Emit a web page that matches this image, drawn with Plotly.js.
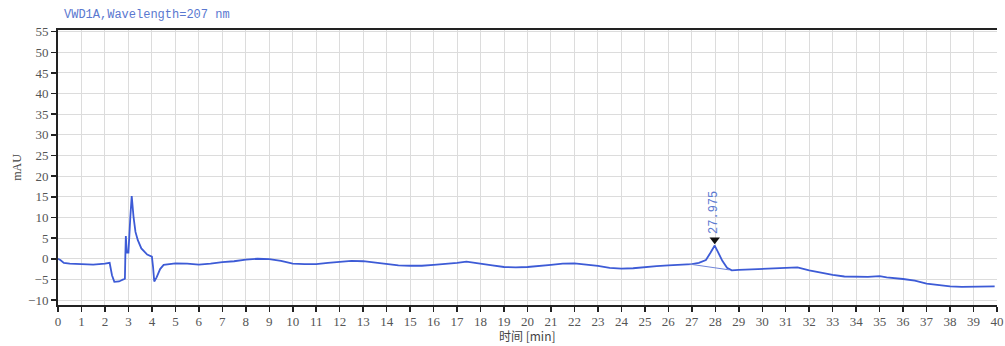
<!DOCTYPE html>
<html><head><meta charset="utf-8">
<script src="https://cdn.plot.ly/plotly-3.0.1.min.js"></script>
<style>body{margin:0;padding:0;background:#fff}#c{width:1005px;height:346px}</style>
</head><body><div id="c"></div>
<script>
const timeMin = [0,0.1,0.25,0.5,1,1.5,2.0,2.2,2.3,2.4,2.6,2.85,2.87,2.89,2.93,3.0,3.08,3.14,3.22,3.3,3.4,3.55,3.8,4.0,4.05,4.1,4.2,4.35,4.5,5,5.5,6,6.5,7,7.5,8,8.5,9,9.5,10,10.5,11,11.5,12,12.5,13,13.5,14,14.5,15,15.5,16,16.5,17,17.4,18,18.5,19,19.5,20,20.5,21,21.5,22,22.5,23,23.5,24,24.5,25,25.5,26,26.5,27,27.3,27.6,27.8,27.975,28.1,28.3,28.5,28.7,29,29.5,30,30.5,31,31.5,32,32.5,33,33.5,34,34.5,35,35.3,36,36.5,37,37.5,38,38.5,39,39.5,39.9];
const signalMAU = [0,-0.3,-1.0,-1.2,-1.3,-1.4,-1.2,-1.0,-4.0,-5.6,-5.5,-4.8,1.0,5.5,1.5,1.5,10,15.2,10,6.5,4.5,2.5,1.0,0.5,-2,-5.5,-4.5,-2.5,-1.5,-1.1,-1.2,-1.4,-1.2,-0.8,-0.6,-0.2,0,-0.1,-0.5,-1.2,-1.3,-1.3,-1.0,-0.8,-0.5,-0.6,-0.9,-1.3,-1.6,-1.7,-1.7,-1.5,-1.3,-1.0,-0.7,-1.1,-1.6,-2.0,-2.1,-2.0,-1.8,-1.5,-1.2,-1.1,-1.4,-1.7,-2.2,-2.4,-2.3,-2.0,-1.8,-1.6,-1.5,-1.3,-1.0,-0.3,1.5,3.2,1.8,-0.5,-2.2,-2.8,-2.7,-2.6,-2.5,-2.3,-2.2,-2.1,-2.8,-3.4,-3.9,-4.3,-4.4,-4.4,-4.2,-4.5,-4.9,-5.3,-6.0,-6.4,-6.7,-6.8,-6.7,-6.7,-6.7];
const baseX = [26.9, 28.6];
const baseY = [-1.3, -2.7];
const peakTime = [27.975];
const peakMark = [4.6];
const peakLabel = ['27.975'];
const xTicks = Array.from({length:41},(_,i)=>i);
const yTicks = [-10,-5,0,5,10,15,20,25,30,35,40,45,50,55];

const blue = '#3d5bd6';
const data = [
  {x: timeMin, y: signalMAU, mode:'lines', line:{color:blue, width:1.8}, hoverinfo:'skip'},
  {x: baseX, y: baseY, mode:'lines', line:{color:'#6f84d8', width:1}, hoverinfo:'skip'},
  {x: peakTime, y: peakMark, mode:'markers', marker:{symbol:'triangle-down', size:9, color:'#111'}, hoverinfo:'skip'}
];
const tickFont = {family:'Liberation Serif, DejaVu Serif, serif', size:13, color:'#555'};
const layout = {
  width:1005, height:346,
  margin:{l:58, r:8, t:30, b:41},
  paper_bgcolor:'#fff', plot_bgcolor:'#fff',
  showlegend:false,
  xaxis:{range:[0,40], tickvals:xTicks, ticktext:xTicks.map(String), showgrid:true, gridcolor:'#dcdcdc', gridwidth:1,
    showline:true, linecolor:'#222', linewidth:2, mirror:true, ticks:'outside', ticklen:5, tickcolor:'#222', tickwidth:1.5,
    tickfont:tickFont, zeroline:false, automargin:false, ticklabelstandoff:-2},
  yaxis:{range:[-11.2,55.4], tickvals:yTicks, showgrid:true, gridcolor:'#dcdcdc', gridwidth:1,
    showline:true, linecolor:'#222', linewidth:2, ticks:'outside', ticklen:5, tickcolor:'#222', tickwidth:1.5,
    tickfont:tickFont, zeroline:false, automargin:false,
    title:{text:'mAU', font:{family:'Liberation Serif, serif', size:12, color:'#444'}, standoff:4}},
  annotations:[
    {x:peakTime[0], y:peakMark[0], xref:'x', yref:'y', text:peakLabel[0], textangle:-90, showarrow:false,
     yanchor:'bottom', yshift:4, font:{family:'Liberation Mono, monospace', size:12, color:'#5a78d0'}},
    {x:0.004, y:1, xref:'paper', yref:'paper', xanchor:'left', yanchor:'bottom', yshift:6,
     text:'VWD1A,Wavelength=207 nm', showarrow:false, font:{family:'Liberation Mono, monospace', size:12, color:'#5a78d0'}},
    {x:0.5, y:0, xref:'paper', yref:'paper', xanchor:'center', yanchor:'bottom', yshift:-41,
     text:'时间 [min]', showarrow:false, font:{family:'Noto Sans CJK SC, sans-serif', size:12, color:'#444'}}
  ]
};
Plotly.newPlot('c', data, layout, {staticPlot:true, displayModeBar:false});
</script></body></html>
